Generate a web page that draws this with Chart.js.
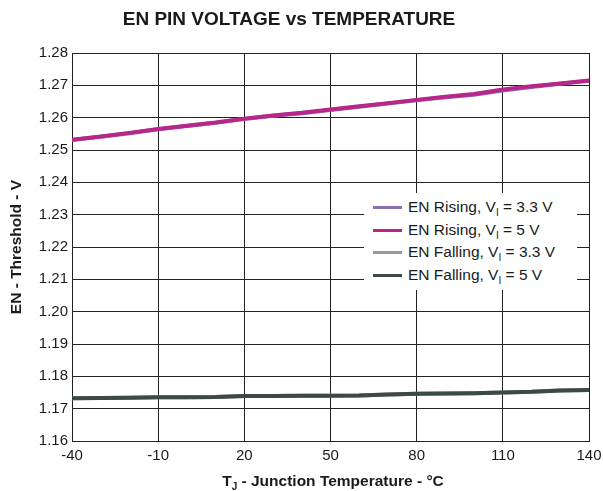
<!DOCTYPE html>
<html>
<head>
<meta charset="utf-8">
<script src="https://cdn.jsdelivr.net/npm/chart.js@4.4.1/dist/chart.umd.min.js"></script>
<style>
  html, body { margin: 0; padding: 0; background: #fff; }
  #wrap { position: relative; width: 603px; height: 491px; font-family: "Liberation Sans", Arial, sans-serif; color: #1a1a1a; }
  #title { position: absolute; left: 0; top: 8px; width: 578px; text-align: center; font-weight: bold; font-size: 19px; }
  #xtitle { position: absolute; left: 72px; top: 472px; width: 522px; text-align: center; font-weight: bold; font-size: 15.5px; }
  #legend { position: absolute; left: 364px; top: 193px; width: 213px; height: 97px; background: #fff; }
  .row { position: absolute; left: 0; height: 20px; font-size: 15.5px; line-height: 20px; white-space: nowrap; }
  .sw { position: absolute; left: 9px; top: 9px; width: 29px; height: 3px; }
  .txt { position: absolute; left: 44px; top: 0; }
  sub { font-size: 10px; vertical-align: -4px; line-height: 0; }
</style>
</head>
<body>
<div id="wrap">
  <canvas id="chart" width="603" height="491"></canvas>
  <div id="title">EN PIN VOLTAGE vs TEMPERATURE</div>
  <div id="xtitle">T<sub>J</sub> - Junction Temperature - °C</div>
  <div id="legend"></div>
</div>
<script>
const temps = [-40, -30, -20, -10, 0, 10, 20, 30, 40, 50, 60, 70, 80, 90, 100, 110, 120, 130, 140]
const risingV33 = [1.2531, 1.2541, 1.2552, 1.2564, 1.2574, 1.2584, 1.2596, 1.2606, 1.2614, 1.2624, 1.2634, 1.2644, 1.2654, 1.2663, 1.2671, 1.2684, 1.2695, 1.2705, 1.2714]
const risingV5 = [1.2532, 1.2542, 1.2553, 1.2565, 1.2575, 1.2585, 1.2597, 1.2607, 1.2615, 1.2625, 1.2635, 1.2645, 1.2655, 1.2665, 1.2673, 1.2687, 1.2697, 1.2706, 1.2715]
const fallingV33 = [1.1732, 1.1733, 1.1734, 1.1735, 1.1735, 1.1736, 1.1739, 1.1739, 1.1740, 1.1740, 1.1741, 1.1744, 1.1746, 1.1747, 1.1748, 1.1750, 1.1752, 1.1756, 1.1758]
const fallingV5 = [1.1732, 1.1733, 1.1734, 1.1735, 1.1735, 1.1736, 1.1739, 1.1739, 1.1740, 1.1740, 1.1741, 1.1744, 1.1746, 1.1747, 1.1748, 1.1750, 1.1752, 1.1756, 1.1758]

const seriesNames = ["EN Rising, V<sub>I</sub> = 3.3 V", "EN Rising, V<sub>I</sub> = 5 V", "EN Falling, V<sub>I</sub> = 3.3 V", "EN Falling, V<sub>I</sub> = 5 V"]
const seriesColors = ["#8b6fb5", "#b8268a", "#9a9a9a", "#3c4a47"]
const seriesValues = [risingV33, risingV5, fallingV33, fallingV5]

const toPoints = vals => vals.map((v, i) => ({ x: temps[i], y: v }))
const tickFont = { family: "Liberation Sans", size: 15 }

new Chart("chart", {
  type: "line",
  data: {
    datasets: seriesValues.map((vals, i) => ({
      label: seriesNames[i],
      data: toPoints(vals),
      borderColor: seriesColors[i],
      backgroundColor: seriesColors[i],
      borderWidth: 4,
      pointRadius: 0,
      tension: 0,
      order: i % 2 == 0 ? 1 : 0
    }))
  },
  options: {
    animation: false,
    responsive: false,
    layout: { padding: { top: 53, right: 14, left: 0, bottom: 0 } },
    plugins: { legend: { display: false }, title: { display: false }, tooltip: { enabled: false } },
    scales: {
      x: {
        type: "linear",
        min: -40,
        max: 140,
        afterFit: s => { s.height = 50; s.paddingRight = 0; s.paddingLeft = 0 },
        ticks: { stepSize: 30, autoSkip: false, maxRotation: 0, padding: 6, color: "#1a1a1a", font: tickFont },
        grid: { color: "#222", lineWidth: 1, drawTicks: false },
        border: { display: true, color: "#222", width: 1 }
      },
      y: {
        min: 1.16,
        max: 1.28,
        afterFit: s => { s.width = 72 },
        ticks: { stepSize: 0.01, padding: 4, color: "#1a1a1a", font: tickFont, callback: v => v.toFixed(2) },
        grid: { color: "#222", lineWidth: 1, drawTicks: false },
        border: { display: true, color: "#222", width: 1 },
        title: { display: true, text: "EN - Threshold - V", color: "#1a1a1a", font: { family: "Liberation Sans", size: 15.5, weight: "bold" }, padding: { top: 7, bottom: 0 } }
      }
    }
  }
})

// legend with subscripts
const legend = document.getElementById("legend")
seriesNames.forEach((name, i) => {
  const row = document.createElement("div")
  row.className = "row"
  row.style.top = (4 + i * 22.7) + "px"
  row.innerHTML = `<span class="sw" style="background:${seriesColors[i]}"></span><span class="txt">${name}</span>`
  legend.appendChild(row)
})
</script>
</body>
</html>
